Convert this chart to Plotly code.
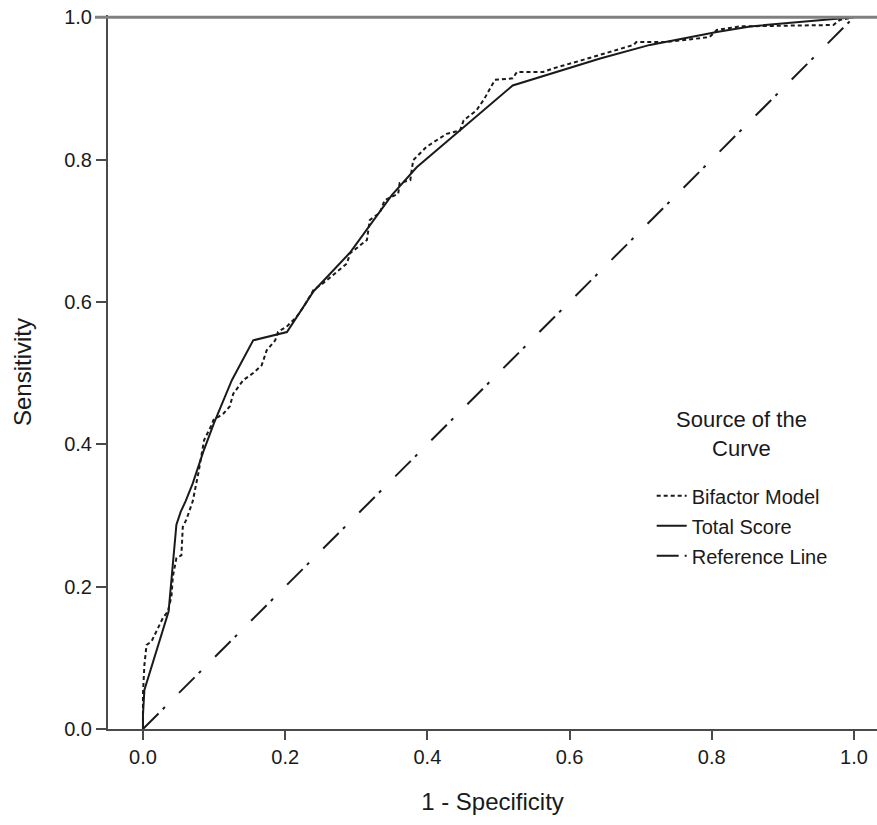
import plotly.graph_objects as go

# ---- data ----
bifactor_fpr = [0, 0, 0.002, 0.005, 0.012, 0.021, 0.028, 0.035, 0.040, 0.042,
                0.047, 0.054, 0.056, 0.061, 0.070, 0.078, 0.086, 0.097, 0.099, 0.113,
                0.122, 0.127, 0.141, 0.155, 0.167, 0.174, 0.186, 0.190, 0.202, 0.216,
                0.226, 0.240, 0.253, 0.270, 0.287, 0.291, 0.315, 0.319, 0.333, 0.340,
                0.359, 0.361, 0.376, 0.380, 0.399, 0.427, 0.446, 0.451, 0.469, 0.480,
                0.495, 0.520, 0.526, 0.563, 0.577, 0.619, 0.657, 0.690, 0.694, 0.736,
                0.797, 0.807, 0.840, 0.971, 0.980, 1.0]
bifactor_tpr = [0, 0.05, 0.09, 0.118, 0.123, 0.142, 0.156, 0.165, 0.186, 0.214,
                0.240, 0.244, 0.284, 0.294, 0.320, 0.360, 0.406, 0.428, 0.434, 0.443,
                0.453, 0.471, 0.490, 0.500, 0.511, 0.532, 0.546, 0.558, 0.565, 0.579,
                0.593, 0.617, 0.626, 0.640, 0.654, 0.668, 0.687, 0.715, 0.725, 0.743,
                0.752, 0.767, 0.771, 0.799, 0.818, 0.836, 0.841, 0.855, 0.869, 0.885,
                0.912, 0.914, 0.923, 0.923, 0.928, 0.940, 0.951, 0.961, 0.965, 0.965,
                0.972, 0.982, 0.987, 0.989, 0.996, 1.0]

total_fpr = [0, 0, 0.002, 0.036, 0.047, 0.053, 0.060, 0.070, 0.085, 0.100,
             0.125, 0.155, 0.2025, 0.240, 0.291, 0.350, 0.385, 0.450, 0.520, 0.643,
             0.713, 0.807, 0.854, 1.0]
total_tpr = [0, 0.02, 0.055, 0.165, 0.287, 0.305, 0.320, 0.345, 0.390, 0.430,
             0.490, 0.546, 0.5576, 0.615, 0.669, 0.750, 0.789, 0.845, 0.904, 0.942,
             0.961, 0.979, 0.987, 1.0]

ref_x = [0, 1]
ref_y = [0, 1]

tick_vals = [0.0, 0.2, 0.4, 0.6, 0.8, 1.0]
tick_text = ["0.0", "0.2", "0.4", "0.6", "0.8", "1.0"]

series_names = ["Bifactor Model", "Total Score", "Reference Line"]
legend_title = "Source of the<br>Curve"

FONT = "Liberation Sans, Arial, sans-serif"
INK = "#1a1a1a"
AX = "#4a4a4a"

fig = go.Figure()
fig.add_trace(go.Scatter(x=bifactor_fpr, y=bifactor_tpr, mode="lines",
                         name=series_names[0], legendgroup="a",
                         line=dict(color=INK, width=2, dash="4px,3px")))
fig.add_trace(go.Scatter(x=total_fpr, y=total_tpr, mode="lines",
                         name=series_names[1], legendgroup="b",
                         line=dict(color=INK, width=2)))
fig.add_trace(go.Scatter(x=ref_x, y=ref_y, mode="lines",
                         name=series_names[2], legendgroup="c",
                         line=dict(color=INK, width=2, dash="22px,6px,3px,20px")))

# top border line at sensitivity = 1.0
fig.add_shape(type="line", xref="paper", yref="y", x0=-0.017, x1=1, y0=1, y1=1,
              line=dict(color="#808080", width=3), layer="above")

# legend title, centred as in the reference
fig.add_annotation(text=legend_title, xref="paper", yref="paper",
                   x=0.824, y=0.413, xanchor="center", yanchor="middle",
                   showarrow=False, align="center",
                   font=dict(size=22, family=FONT, color=INK))

fig.update_layout(
    width=877, height=825,
    margin=dict(l=108, r=0, t=15, b=96),
    paper_bgcolor="white", plot_bgcolor="white",
    font=dict(family=FONT, color=INK, size=20),
    showlegend=True,
    legend=dict(
        x=0.707, y=0.354, xanchor="left", yanchor="top",
        bgcolor="rgba(0,0,0,0)",
        font=dict(size=20, family=FONT, color=INK),
        tracegroupgap=1,
    ),
    xaxis=dict(
        range=[-0.0492, 1.0324], tickvals=tick_vals, ticktext=tick_text,
        showgrid=False, zeroline=False, showline=True, linecolor=AX, linewidth=2,
        ticks="outside", ticklen=9, tickwidth=2, tickcolor=AX,
        tickfont=dict(size=20, family=FONT, color=INK),
        title=dict(text="1 - Specificity", font=dict(size=24, family=FONT, color=INK),
                   standoff=26),
    ),
    yaxis=dict(
        range=[0, 1.003], tickvals=tick_vals, ticktext=tick_text,
        showgrid=False, zeroline=False, showline=True, linecolor=AX, linewidth=2,
        ticks="outside", ticklen=10, tickwidth=2, tickcolor=AX,
        tickfont=dict(size=20, family=FONT, color=INK),
        title=dict(text="Sensitivity", font=dict(size=24, family=FONT, color=INK),
                   standoff=26),
    ),
)

fig.write_html("out.html")
